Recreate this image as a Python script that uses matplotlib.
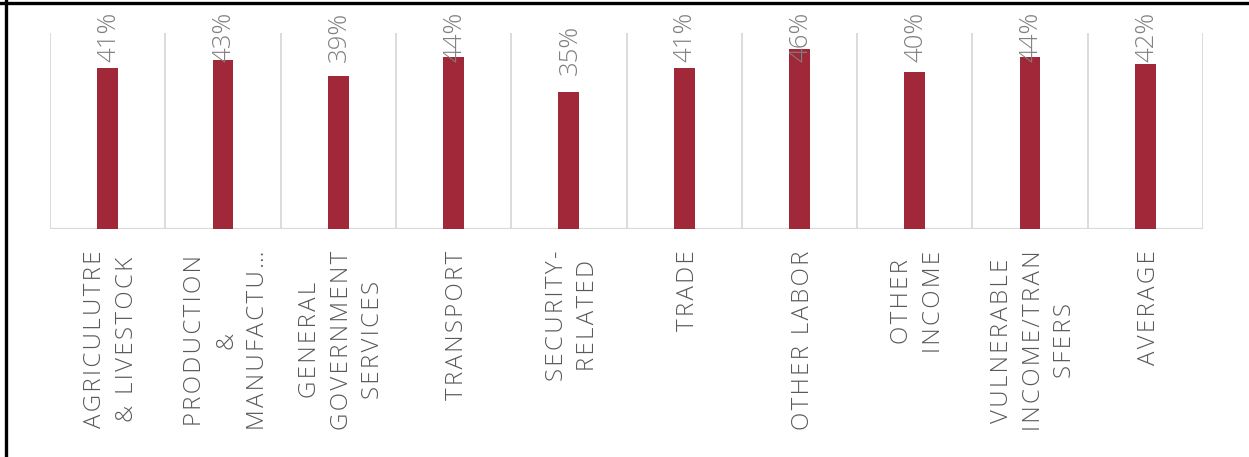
import matplotlib
matplotlib.use("Agg")
import matplotlib.pyplot as plt
from matplotlib.lines import Line2D

# Share of households, by main income source
categories = [
    "AGRICULUTRE\n& LIVESTOCK",
    "PRODUCTION\n&\nMANUFACTU\u2026",
    "GENERAL\nGOVERNMENT\nSERVICES",
    "TRANSPORT",
    "SECURITY-\nRELATED",
    "TRADE",
    "OTHER LABOR",
    "OTHER\nINCOME",
    "VULNERABLE\nINCOME/TRAN\nSFERS",
    "AVERAGE",
]
values = [0.41, 0.43, 0.39, 0.44, 0.35, 0.41, 0.46, 0.40, 0.44, 0.42]
value_labels = ["41%", "43%", "39%", "44%", "35%", "41%", "46%", "40%", "44%", "42%"]

BAR_COLOR = "#A12839"
GRID_COLOR = "#D9D9D9"
FONT = ["Open Sans", "DejaVu Sans"]

W, H = 1249, 457
fig = plt.figure(figsize=(W / 100, H / 100), dpi=100)
ax = fig.add_axes([50 / W, 1 - 229 / H, (1203 - 50) / W, (229 - 33) / H])

n = len(values)
x = list(range(n))
ax.bar(x, values, width=0.18, color=BAR_COLOR, zorder=3)

ax.set_xlim(-0.5, n - 0.5)
ax.set_ylim(0, 0.5)

# category separators and baseline
ax.vlines([i - 0.5 for i in range(n + 1)], 0, 0.5, colors=GRID_COLOR, lw=1.3, zorder=1)
ax.axhline(0, color=GRID_COLOR, lw=1.6, zorder=2)

for s in ax.spines.values():
    s.set_visible(False)
ax.set_yticks([])
ax.set_xticks([])

# value labels, rotated, kept inside the plot frame
for xi, v, lab in zip(x, values, value_labels):
    y0 = min(v + 0.044, 0.427)
    ax.text(xi + 0.01, y0, lab, rotation=90, ha="center", va="bottom",
            fontsize=18.5, color="#808080", family=FONT, fontweight="light",
            zorder=4, clip_on=False)


def spaced(s):
    # widen character spacing of the axis labels
    return "\n".join("\u200a".join(line) for line in s.split("\n"))


for xi, cat in zip(x, categories):
    ax.text(xi + 0.03, -0.055, spaced(cat), rotation=90, ha="center", va="top",
            multialignment="center", fontsize=17.3, color="#595959",
            family=FONT, fontweight="light", linespacing=1.42, clip_on=False)

# frame lines along the top and left edges
fig.add_artist(Line2D([0, 1], [1 - 2.5 / H, 1 - 2.5 / H], transform=fig.transFigure,
                      color="black", lw=2.4))
fig.add_artist(Line2D([6 / W, 6 / W], [0, 1], transform=fig.transFigure,
                      color="black", lw=2.4))

fig.savefig("out.png", dpi=100, facecolor="white")
